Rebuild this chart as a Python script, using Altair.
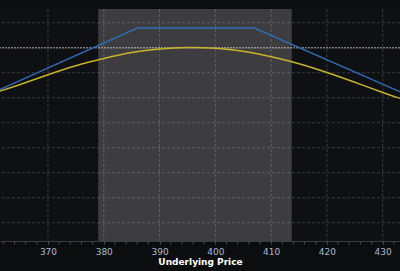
import altair as alt
import pandas as pd

# ---- data ----
x_domain = [361.4, 433.1]
y_domain = [-7.73, 1.55]

shade_lo = [379.0]
shade_hi = [413.7]

major_ticks = [370, 380, 390, 400, 410, 420, 430]
minor_ticks = [362, 364, 366, 368, 372, 374, 376, 378, 382, 384, 386, 388,
               392, 394, 396, 398, 402, 404, 406, 408, 412, 414, 416,
               418, 422, 424, 426, 428, 432]
h_grid = [-7, -6, -5, -4, -3, -2, -1, 1]
zero_line = [0]

blue_prices = [361, 386, 407, 434]
blue_values = [-1.71, 0.79, 0.79, -1.85]

yellow_prices = [361, 365, 370, 375, 380, 385, 390, 395, 400, 405, 410, 415, 420, 425, 430, 434]
yellow_values = [-1.76, -1.47, -1.08, -0.72, -0.43, -0.19, -0.05, 0.01, -0.02, -0.14,
                 -0.36, -0.64, -0.99, -1.38, -1.79, -2.09]

# ---- tables ----
shade_df = pd.DataFrame({"lo": shade_lo, "hi": shade_hi})
vgrid_df = pd.DataFrame({"p": major_ticks})
minor_df = pd.DataFrame({"p": minor_ticks})
hgrid_df = pd.DataFrame({"v": h_grid})
zero_df = pd.DataFrame({"v": zero_line})
blue_df = pd.DataFrame({"p": blue_prices, "v": blue_values})
yellow_df = pd.DataFrame({"p": yellow_prices, "v": yellow_values})

xs = alt.Scale(domain=x_domain, nice=False, zero=False)
ys = alt.Scale(domain=y_domain, nice=False, zero=False)

x_axis = alt.Axis(
    values=major_ticks,
    format="d",
    labelOverlap=False,
    grid=False,
    tickSize=3,
    tickColor="#4a4c50",
    domainColor="#3a3c40",
    labelColor="#a9bcd0",
    labelFontSize=9,
    labelPadding=3,
    labelFont="DejaVu Sans",
    title="Underlying Price",
    titleColor="#ffffff",
    titleFontWeight="bold",
    titleFontSize=9,
    titleFont="DejaVu Sans",
    titlePadding=1,
)

shade = alt.Chart(shade_df).mark_rect(color="#3d3d40").encode(
    x=alt.X("lo:Q", scale=xs, axis=x_axis),
    x2="hi:Q",
)

vgrid = alt.Chart(vgrid_df).mark_rule(
    color="#ffffff", opacity=0.18, strokeDash=[3, 2], strokeWidth=1
).encode(x=alt.X("p:Q", scale=xs))

minor = alt.Chart(minor_df).mark_rule(color="#4a4c50", strokeWidth=1).encode(
    x=alt.X("p:Q", scale=xs),
    y=alt.value(232.5),
    y2=alt.value(235.5),
)

hgrid = alt.Chart(hgrid_df).mark_rule(
    color="#ffffff", opacity=0.18, strokeDash=[3, 2], strokeWidth=1
).encode(y=alt.Y("v:Q", scale=ys, axis=None))

zero = alt.Chart(zero_df).mark_rule(
    color="#ffffff", opacity=0.45, strokeDash=[2, 1], strokeWidth=1.5
).encode(y=alt.Y("v:Q", scale=ys, axis=None))

blue = alt.Chart(blue_df).mark_line(color="#2e6cb4", strokeWidth=1.4, clip=True).encode(
    x=alt.X("p:Q", scale=xs),
    y=alt.Y("v:Q", scale=ys, axis=None),
)

yellow = alt.Chart(yellow_df).mark_line(
    color="#c8b42c", strokeWidth=1.4, clip=True, interpolate="natural"
).encode(
    x=alt.X("p:Q", scale=xs),
    y=alt.Y("v:Q", scale=ys, axis=None),
)

chart = (
    alt.layer(shade, vgrid, minor, hgrid, zero, blue, yellow)
    .properties(
        width=400,
        height=232,
        background="#0c0d0f",
        padding={"left": 0, "top": 9, "right": 0, "bottom": 30},
        autosize=alt.AutoSizeParams(type="none"),
    )
    .configure_view(fill="#0f1013", stroke=None)
)

chart.save("out.html", embed_options={"renderer": "svg", "actions": False})
